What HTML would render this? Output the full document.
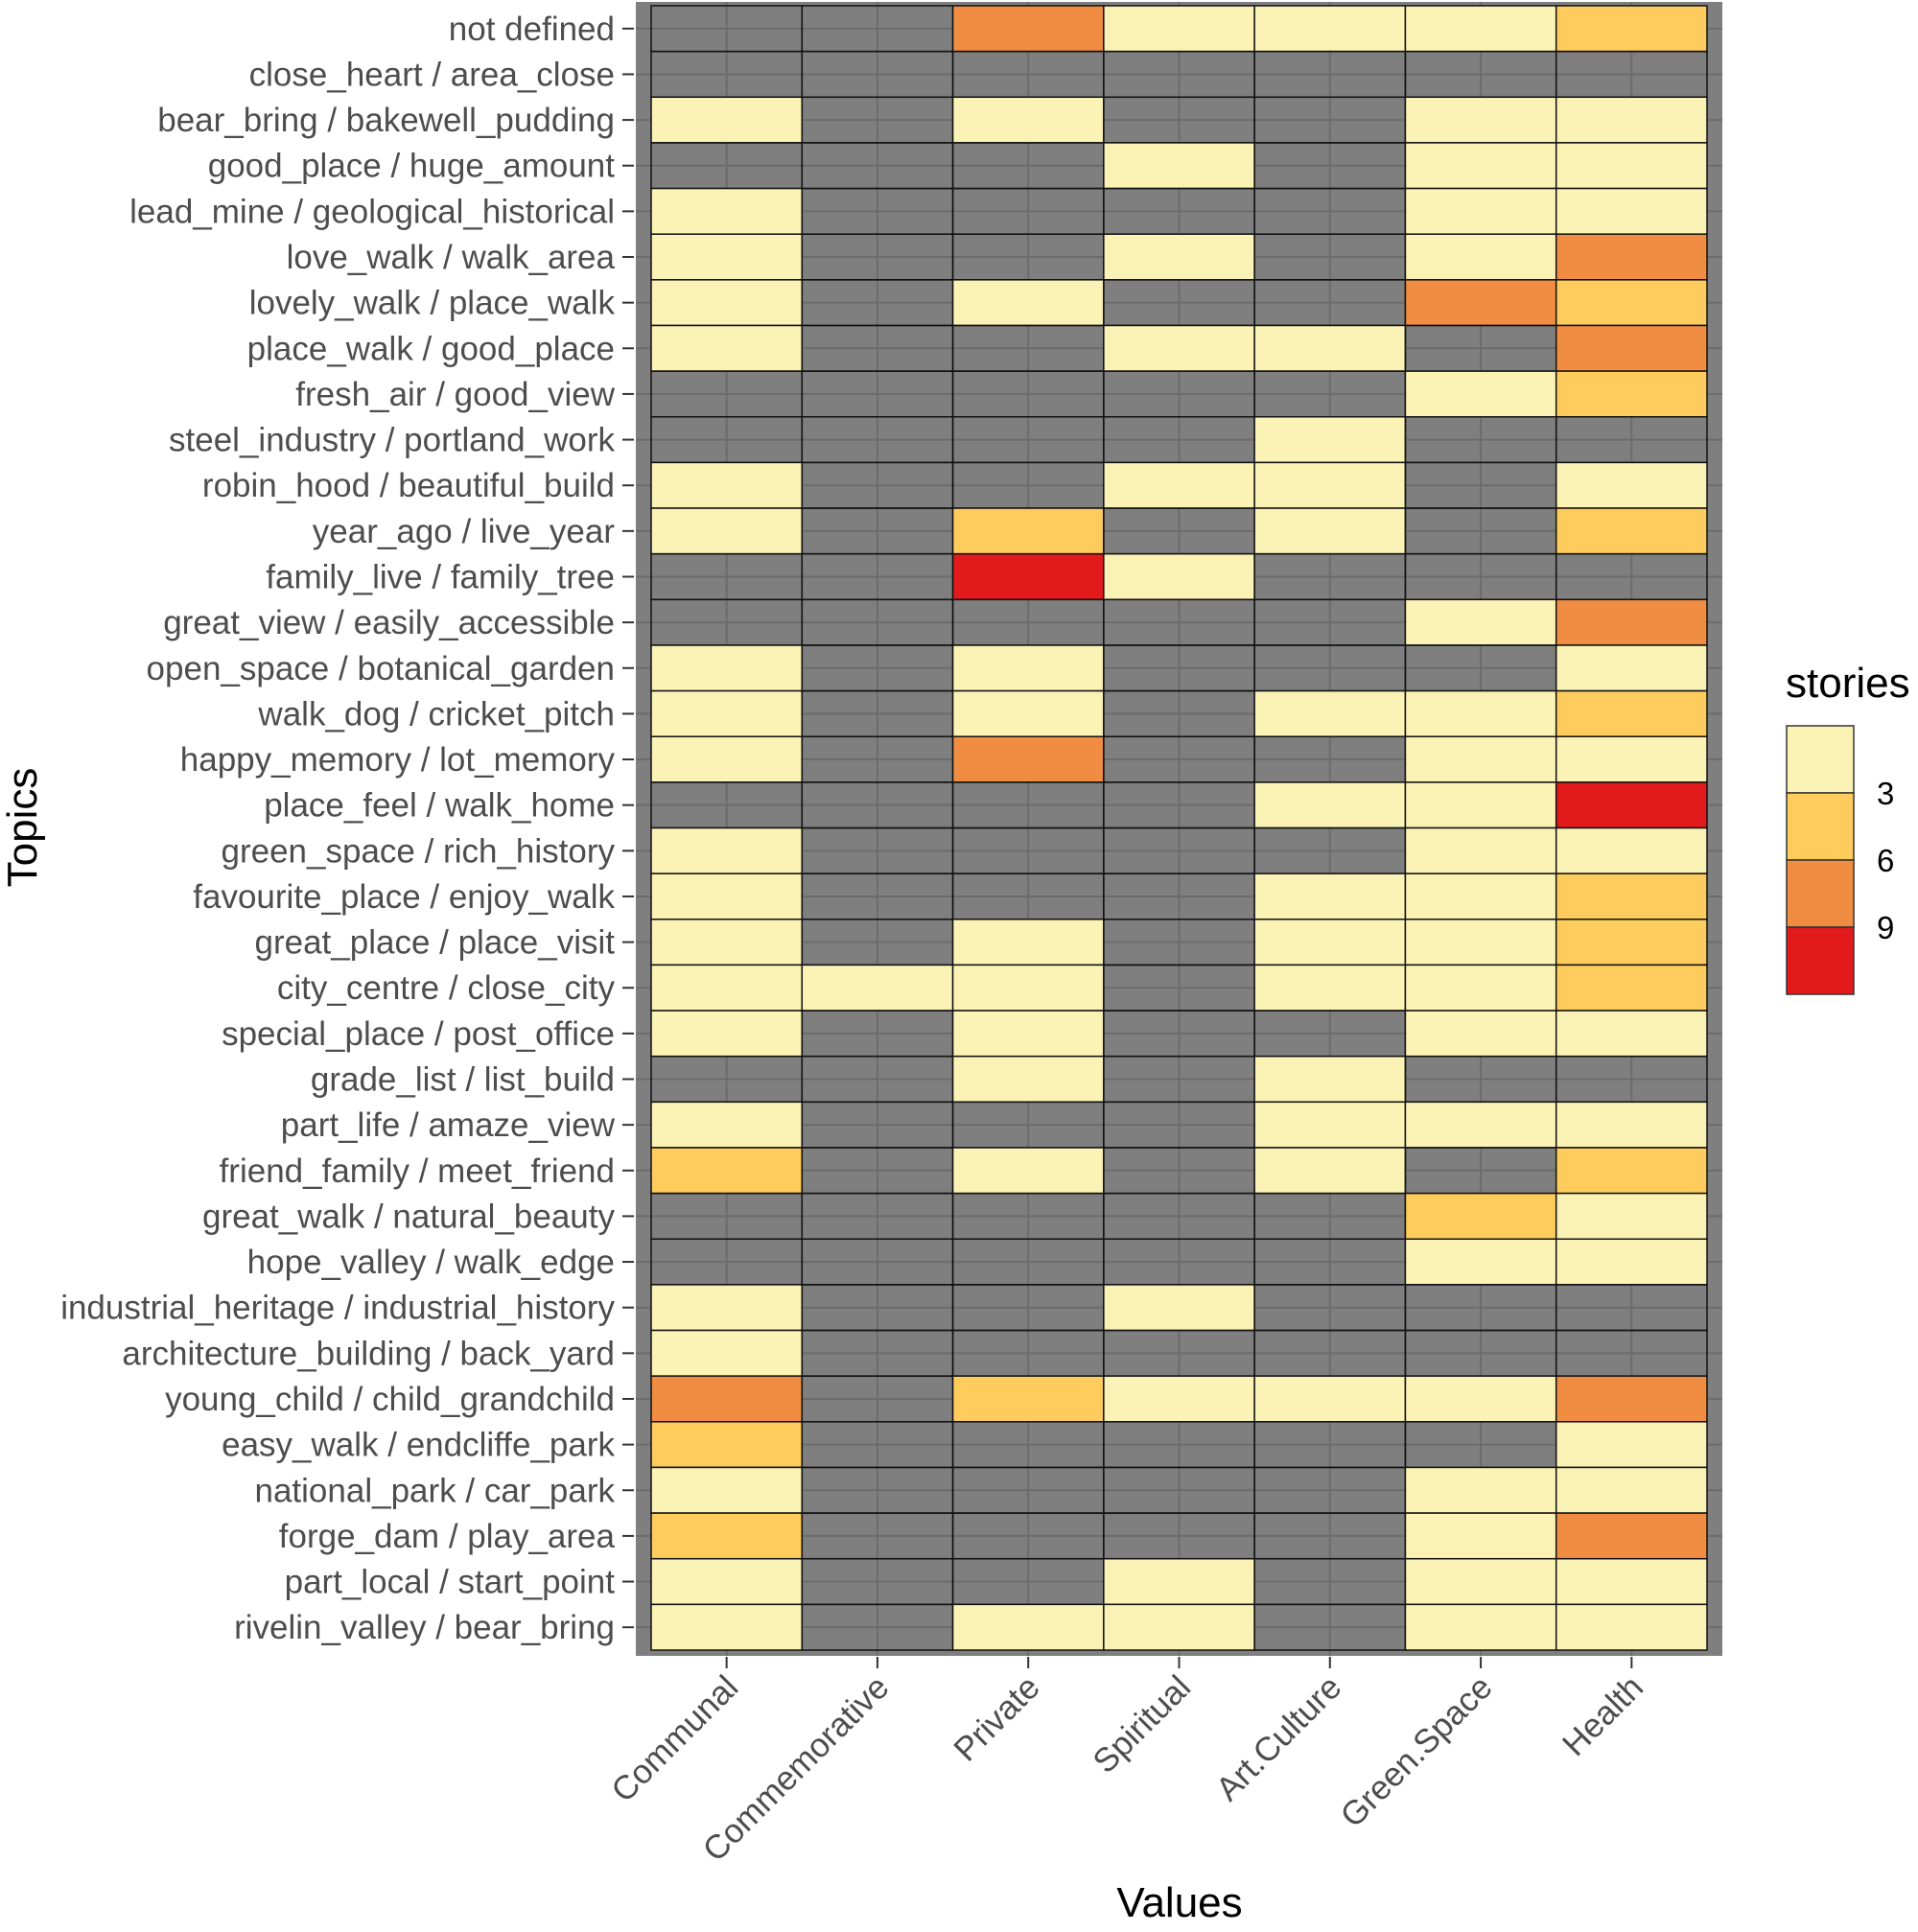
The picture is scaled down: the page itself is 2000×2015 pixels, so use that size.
<!DOCTYPE html>
<html><head><meta charset="utf-8"><style>
html,body{margin:0;padding:0;background:#fff;}
svg{display:block;font-family:"Liberation Sans",Arial,sans-serif;}
</style></head><body>
<svg id="chart" width="2000" height="2015" viewBox="0 0 2000 2015">
<rect x="663" y="2" width="1133" height="1725" fill="#7f7f7f"/>
<g id="grid"></g><g id="tiles"></g><g id="yaxis"></g><g id="xaxis"></g>
<text x="38" y="863" font-size="44" text-anchor="middle" transform="rotate(-90 38 863)" fill="#000">Topics</text>
<text x="1230" y="1999" font-size="44" text-anchor="middle" fill="#000">Values</text>
<g id="legend">
<text x="1862" y="727" font-size="44" fill="#000">stories</text>
</g>
</svg>
<script>
const categories = ["Communal","Commemorative","Private","Spiritual","Art.Culture","Green.Space","Health"];
const topics = ["not defined","close_heart / area_close","bear_bring / bakewell_pudding","good_place / huge_amount","lead_mine / geological_historical","love_walk / walk_area","lovely_walk / place_walk","place_walk / good_place","fresh_air / good_view","steel_industry / portland_work","robin_hood / beautiful_build","year_ago / live_year","family_live / family_tree","great_view / easily_accessible","open_space / botanical_garden","walk_dog / cricket_pitch","happy_memory / lot_memory","place_feel / walk_home","green_space / rich_history","favourite_place / enjoy_walk","great_place / place_visit","city_centre / close_city","special_place / post_office","grade_list / list_build","part_life / amaze_view","friend_family / meet_friend","great_walk / natural_beauty","hope_valley / walk_edge","industrial_heritage / industrial_history","architecture_building / back_yard","young_child / child_grandchild","easy_walk / endcliffe_park","national_park / car_park","forge_dam / play_area","part_local / start_point","rivelin_valley / bear_bring"];
// stories counts per topic row (0 = no data)
const stories = [
[0,0,8,2,2,2,5],[0,0,0,0,0,0,0],[2,0,2,0,0,2,2],[0,0,0,2,0,2,2],[2,0,0,0,0,2,2],
[2,0,0,2,0,2,8],[2,0,2,0,0,8,5],[2,0,0,2,2,0,8],[0,0,0,0,0,2,5],[0,0,0,0,2,0,0],
[2,0,0,2,2,0,2],[2,0,5,0,2,0,5],[0,0,11,2,0,0,0],[0,0,0,0,0,2,8],[2,0,2,0,0,0,2],
[2,0,2,0,2,2,5],[2,0,8,0,0,2,2],[0,0,0,0,2,2,11],[2,0,0,0,0,2,2],[2,0,0,0,2,2,5],
[2,0,2,0,2,2,5],[2,2,2,0,2,2,5],[2,0,2,0,0,2,2],[0,0,2,0,2,0,0],[2,0,0,0,2,2,2],
[5,0,2,0,2,0,5],[0,0,0,0,0,5,2],[0,0,0,0,0,2,2],[2,0,0,2,0,0,0],[2,0,0,0,0,0,0],
[8,0,5,2,2,2,8],[5,0,0,0,0,0,2],[2,0,0,0,0,2,2],[5,0,0,0,0,2,8],[2,0,0,2,0,2,2],[2,0,2,2,0,2,2]];
const legendBreaks = [3,6,9];
const binColors = ["#fbf3b5","#fecc5c","#f08d42","#e31a1c"];

const NS="http://www.w3.org/2000/svg";
const X0=679, X1=1780, Y0=6, Y1=1721;
const cw=(X1-X0)/categories.length, rh=(Y1-Y0)/topics.length;
const xScale=i=>X0+i*cw, yScale=j=>Y0+j*rh;
function color(v){ if(v<=3) return binColors[0]; if(v<=6) return binColors[1]; if(v<=9) return binColors[2]; return binColors[3]; }
function mk(tag,attrs,parent){const e=document.createElementNS(NS,tag);for(const k in attrs)e.setAttribute(k,attrs[k]);parent.appendChild(e);return e;}
const grid=document.getElementById('grid'), tiles=document.getElementById('tiles');
const yax=document.getElementById('yaxis'), xax=document.getElementById('xaxis'), leg=document.getElementById('legend');
categories.forEach((c,i)=>{const cx=xScale(i)+cw/2;
 const l=mk('line',{x1:cx,x2:cx,y1:2,y2:1727,stroke:'#6c6c6c','stroke-width':2},grid);
 
 });
topics.forEach((t,j)=>{const cy=yScale(j)+rh/2;
 const l=mk('line',{x1:663,x2:1796,y1:cy,y2:cy,stroke:'#6c6c6c','stroke-width':2},grid);
 
 
 const tk=mk('line',{x1:649,x2:661,y1:cy,y2:cy,stroke:'#333','stroke-width':2},yax);
 
 
 const tx=mk('text',{x:641,y:cy+12,'font-size':35,'text-anchor':'end',fill:'#4d4d4d'},yax);
 tx.textContent=t;
 
 });
stories.forEach((row,j)=>row.forEach((v,i)=>{
 const r=mk('rect',{x:xScale(i),y:yScale(j),width:cw,height:rh,fill:v>0?color(v):'none',stroke:'#111','stroke-width':1.5},tiles);
 
 }));
categories.forEach((c,i)=>{const cx=xScale(i)+cw/2;
 const tk=mk('line',{x1:cx,x2:cx,y1:1728,y2:1740,stroke:'#333','stroke-width':2},xax);
 
 
 const tx=mk('text',{x:cx+14,y:1762,'font-size':35,'text-anchor':'end',fill:'#4d4d4d',transform:`rotate(-45 ${cx+14} 1762)`},xax);
 tx.textContent=c;
 
 });
const LX=1863, LY=757, LW=70, LH=70;
binColors.forEach((c,k)=>{
 const r=mk('rect',{x:LX,y:LY+k*LH,width:LW,height:LH,fill:c,stroke:'#333','stroke-width':1.5},leg);
 
 });
legendBreaks.forEach((b,k)=>{
 const t=mk('text',{x:1957,y:LY+(k+1)*LH+12,'font-size':33,fill:'#000'},leg);
 t.textContent=b;
 
 });
</script>
</body></html>
